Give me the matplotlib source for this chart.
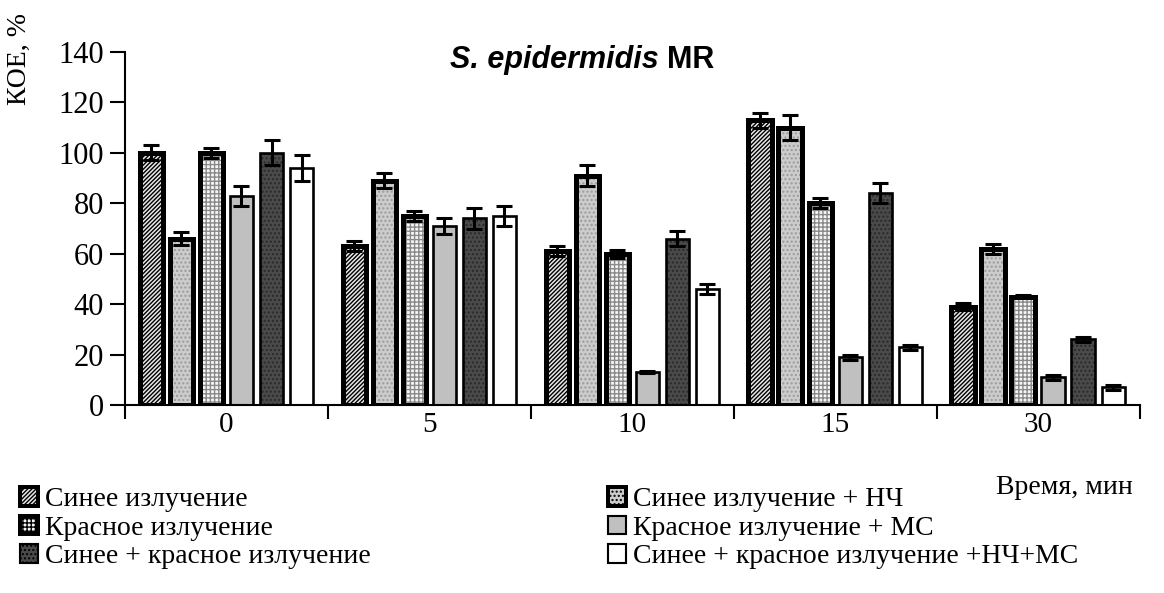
import matplotlib.pyplot as plt
import numpy as np
from matplotlib.patches import Patch
from matplotlib import rcParams

# время облучения, мин
times = ["0", "5", "10", "15", "30"]

# КОЕ, % и ошибки для каждой серии
blue = [100, 63, 61, 113, 39]
blue_err = [3, 2, 2, 3, 1.5]
blue_np = [66, 89, 91, 110, 62]
blue_np_err = [2.5, 3, 4, 5, 2]
red = [100, 75, 60, 80, 43]
red_err = [2, 2, 1.5, 2, 0.5]
red_ms = [83, 71, 13, 19, 11]
red_ms_err = [4, 3, 0.5, 1, 1]
blue_red = [100, 74, 66, 84, 26]
blue_red_err = [5, 4, 3, 4, 1]
blue_red_np_ms = [94, 75, 46, 23, 7]
blue_red_np_ms_err = [5, 4, 2, 1, 1]

labels = ["Синее излучение", "Синее излучение + НЧ", "Красное излучение",
          "Красное излучение + МС", "Синее + красное излучение",
          "Синее + красное излучение +НЧ+МС"]

config = {
    "font.family": ["Liberation Serif", "DejaVu Serif"],
    "font.size": 20,
    "hatch.linewidth": 1.0,
}
rcParams.update(config)

series = [blue, blue_np, red, red_ms, blue_red, blue_red_np_ms]
errors = [blue_err, blue_np_err, red_err, red_ms_err, blue_red_err, blue_red_np_ms_err]
# заливка, штриховка, цвет штриховки, толщина рамки
styles = [
    ("#e8e8e8", "////////", "#000000", 3.6),
    ("#cccccc", "....", "#9a9a9a", 3.6),
    ("#f6f6f6", "++++", "#8a8a8a", 3.6),
    ("#c0c0c0", None, "#c0c0c0", 1.9),
    ("#4a4a4a", "....", "#2a2a2a", 1.9),
    ("#ffffff", None, "#ffffff", 1.9),
]

fig = plt.figure(figsize=(11.64, 5.93), dpi=100)
ax = fig.add_axes([0.1074, 0.317, 0.8716, 0.5953])

x = np.arange(len(times))
pitch = 0.148
width = 0.115
handles = []
for i, (vals, errs) in enumerate(zip(series, errors)):
    fc, hatch, hc, lw = styles[i]
    pos = x + (i - 2.5) * pitch
    # заливка со штриховкой (цвет штриховки берётся из edgecolor)
    ax.bar(pos, vals, width=width, color=fc, edgecolor=hc, linewidth=0,
           hatch=hatch, zorder=2)
    # чёрная рамка поверх
    ax.bar(pos, vals, width=width, fill=False, edgecolor="black", linewidth=lw,
           zorder=2.5)
    ax.errorbar(pos, vals, yerr=errs, fmt="none", ecolor="black",
                elinewidth=2.2, capsize=6, capthick=2.2, zorder=3)
    handles.append(Patch(facecolor=fc, edgecolor="black", hatch=hatch,
                         linewidth=lw * 0.8, label=labels[i]))

ax.set_xlim(-0.5, len(times) - 0.5)
ax.set_ylim(0, 140)
ax.set_yticks(np.arange(0, 141, 20))
ax.set_xticks(x)
ax.set_xticklabels(times)
ax.set_xticks(np.arange(-0.5, len(times), 1), minor=True)
ax.tick_params(axis="x", which="major", length=0, pad=5, labelsize=21)
ax.tick_params(axis="x", which="minor", length=10, width=1.5, direction="out")
ax.tick_params(axis="y", length=11, width=1.5, direction="out", pad=4, labelsize=22)
ax.spines["top"].set_visible(False)
ax.spines["right"].set_visible(False)
ax.spines["left"].set_linewidth(1.5)
ax.spines["bottom"].set_linewidth(1.5)

fig.text(0.017, 0.9, "КОЕ, %", rotation=90, ha="center", va="center")
fig.text(0.566, 0.898, "S. epidermidis", ha="right", va="center",
         family="Liberation Sans", fontweight="bold", fontstyle="italic", fontsize=22)
fig.text(0.573, 0.898, "MR", ha="left", va="center",
         family="Liberation Sans", fontweight="bold", fontsize=22)
fig.text(0.973, 0.178, "Время, мин", ha="right", va="center")

# легенда в две колонки
leg_kw = dict(frameon=False, handlelength=0.65, handleheight=0.65,
              handletextpad=0.25, labelspacing=0.12, borderaxespad=0, fontsize=20)
fig.legend(handles=handles[0::2], loc="upper left",
           bbox_to_anchor=(0.008, 0.197), **leg_kw)
fig.legend(handles=handles[1::2], loc="upper left",
           bbox_to_anchor=(0.513, 0.197), **leg_kw)

fig.savefig("out.png", dpi=100)
